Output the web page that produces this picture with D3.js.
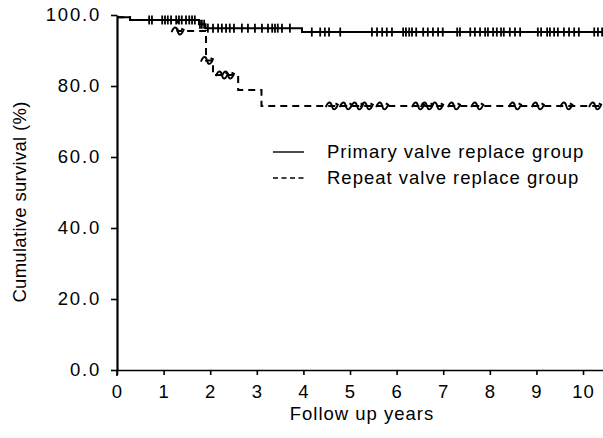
<!DOCTYPE html>
<html><head><meta charset="utf-8">
<script src="https://cdn.jsdelivr.net/npm/d3@7"></script>
<style>body{margin:0;background:#fff}svg{display:block}text{font-family:"Liberation Sans",Arial,sans-serif;fill:#000;letter-spacing:1px}</style>
</head><body><svg id="c" width="603" height="438"></svg>
<script>
// Step points [year, survival %]
const primarySteps = [[0,99.4],[0.28,98.6],[1.76,97.4],[1.9,96.3],[3.97,95.2],[10.45,95.2]];
const repeatSteps = [[0,99.4],[0.28,98.6],[1.3,95.5],[1.91,87.2],[2.06,83.1],[2.6,78.9],[3.1,74.4],[10.45,74.4]];
// Censored observations (years)
const primaryCensored = [0.69,0.75,0.97,1.03,1.09,1.16,1.27,1.33,1.39,1.48,1.55,1.61,1.67,1.78,1.82,1.87,1.95,2.06,2.17,2.25,2.34,2.42,2.51,2.68,2.81,2.96,3.11,3.24,3.33,3.39,3.45,3.54,3.71,4.18,4.36,4.46,4.55,4.79,5.47,5.58,5.69,5.79,5.90,6.14,6.20,6.27,6.33,6.42,6.57,6.67,6.78,6.89,6.99,7.30,7.36,7.58,7.68,7.79,7.90,7.96,8.07,8.15,8.24,8.30,8.43,8.54,8.65,9.03,9.10,9.23,9.29,9.38,9.46,9.59,9.70,9.81,9.91,10.24,10.32,10.41];
const repeatCensored = [1.3,1.93,2.25,2.38,4.61,4.91,5.15,5.36,5.69,6.46,6.65,6.87,7.23,7.73,8.54,9.03,9.64,10.26];
const xTicks = [0,1,2,3,4,5,6,7,8,9,10];
const yTicks = [0,20,40,60,80,100];
const legendLabels = ["Primary valve replace group","Repeat valve replace group"];
const xTitle = "Follow up years", yTitle = "Cumulative survival (%)";

const svg = d3.select("#c");
const x = d3.scaleLinear().domain([0,10.45]).range([117,604]);
const y = d3.scaleLinear().domain([0,100]).range([370,15]);

function valAt(steps,t){let v=steps[0][1];for(const s of steps){if(s[0]<=t)v=s[1];}return v;}
const line = d3.line().curve(d3.curveStepAfter).x(d=>x(d[0])).y(d=>y(d[1]));

// axes
const ya = svg.append("g").attr("transform","translate(117,0)")
  .call(d3.axisLeft(y).tickValues(yTicks).tickFormat(d3.format(".1f")).tickSize(6).tickSizeOuter(0).tickPadding(10));
const xa = svg.append("g").attr("transform","translate(0,370)")
  .call(d3.axisBottom(x).tickValues(xTicks).tickSize(5).tickSizeOuter(0).tickPadding(10));
[ya,xa].forEach(g=>{g.selectAll("path").attr("stroke","#000").attr("stroke-width",1.6);
  g.selectAll("line").attr("stroke","#000").attr("stroke-width",1.6);
  g.selectAll("text").style("font-size","18.5px").attr("fill","#000");});
ya.selectAll("text").style("letter-spacing","1.8px");
ya.select(".domain").attr("stroke-width",2.2);
// y axis extends below origin
svg.append("line").attr("x1",117).attr("x2",117).attr("y1",370).attr("y2",376).attr("stroke","#000").attr("stroke-width",1.6);

// curves
svg.append("path").datum(primarySteps).attr("d",line).attr("fill","none").attr("stroke","#000").attr("stroke-width",2);
svg.append("path").datum(repeatSteps).attr("d",line).attr("fill","none").attr("stroke","#000").attr("stroke-width",2).attr("stroke-dasharray","7,5");

// censor marks
svg.append("g").selectAll("line").data(primaryCensored).join("line")
  .attr("x1",d=>x(d)).attr("x2",d=>x(d)).attr("y1",d=>y(valAt(primarySteps,d))-4.5).attr("y2",d=>y(valAt(primarySteps,d))+4.5)
  .attr("stroke","#000").attr("stroke-width",1.8);
svg.append("g").selectAll("path").data(repeatCensored).join("path")
  .attr("transform",d=>`translate(${x(d)},${y(valAt(repeatSteps,d))}) scale(1.2)`)
  .attr("d","M-5,1 C-3,-4 -1,-4 0,0 C1,4 3,4 5,-1 M3,-2 L5,-1 L4,1")
  .attr("fill","none").attr("stroke","#000").attr("stroke-width",1.6);

// legend
const lg = svg.append("g");
lg.append("line").attr("x1",273).attr("x2",304).attr("y1",152).attr("y2",152).attr("stroke","#000").attr("stroke-width",1.4);
lg.append("line").attr("x1",273).attr("x2",304).attr("y1",178).attr("y2",178).attr("stroke","#000").attr("stroke-width",1.4).attr("stroke-dasharray","5,3.5");
lg.selectAll("text").data(legendLabels).join("text").attr("x",327).attr("y",(d,i)=>158+i*26).style("font-size","18.5px").text(d=>d);

// titles
svg.append("text").attr("x",362).attr("y",420).attr("text-anchor","middle").style("font-size","18.5px").text(xTitle);
svg.append("text").attr("transform","translate(26,202) rotate(-90)").attr("text-anchor","middle").style("font-size","18.5px").style("letter-spacing","0.3px").text(yTitle);
</script></body></html>
